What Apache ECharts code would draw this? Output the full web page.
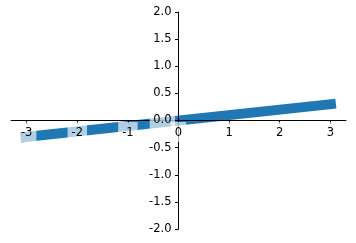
<!DOCTYPE html>
<html>
<head>
<meta charset="utf-8">
<script src="https://cdn.jsdelivr.net/npm/echarts@6/dist/echarts.min.js"></script>
<style>html,body{margin:0;padding:0;background:#fff;}#c{width:356px;height:243px;}</style>
</head>
<body>
<div id="c"></div>
<script>
// Data
const lineX = [-3.12, 3.11];
const lineY = [-0.312, 0.311];
const xTicks = [-3, -2, -1, 0, 1, 2, 3];
const yTickLabels = ['-2.0', '-1.5', '-1.0', '-0.5', '0.0', '0.5', '1.0', '1.5', '2.0'];

const chart = echarts.init(document.getElementById('c'), null, {renderer: 'canvas'});
const font = 'DejaVu Sans';
const labelBase = {
  color: '#000',
  fontFamily: font,
  fontSize: 11.5,
  backgroundColor: 'rgba(255,255,255,0.65)'
};
const grid = {left: 11, right: 10, top: 12, bottom: 14, containLabel: false, outerBoundsMode: 'none'};
chart.setOption({
  animation: false,
  grid: grid,
  xAxis: {
    type: 'value', min: -3.31, max: 3.31, zlevel: 1, z: 5, position: 'bottom', offset: 0,
    splitLine: {show: false},
    axisLine: {show: true, onZero: false, lineStyle: {color: '#000', width: 1}},
    axisTick: {show: true, length: 3.5, lineStyle: {color: '#000'}, customValues: xTicks},
    axisLabel: Object.assign({margin: 1.5, padding: [5, 4, 3, 4], customValues: xTicks,
      formatter: v => String(Math.round(v))}, labelBase)
  },
  yAxis: {
    type: 'value', min: -2, max: 2, interval: 0.5, zlevel: 1, z: 5, position: 'left', offset: 0,
    splitLine: {show: false},
    axisLine: {show: true, onZero: false, lineStyle: {color: '#000', width: 1}},
    axisTick: {show: true, length: 3.5, lineStyle: {color: '#000'}},
    axisLabel: Object.assign({margin: 3.5, padding: [4, 3.5, 1, 3.5], showMinLabel: true, showMaxLabel: true,
      formatter: v => yTickLabels[Math.round((v + 2) / 0.5)]}, labelBase)
  },
  series: [{
    type: 'line',
    data: lineX.map((x, i) => [x, lineY[i]]),
    showSymbol: false,
    zlevel: 0,
    z: 2,
    lineStyle: {color: '#1f77b4', width: 10, cap: 'butt'}
  }]
});
// Move both axes (line, ticks and labels) to cross at zero, like centred spines.
const zeroX = chart.convertToPixel({xAxisIndex: 0}, 0);
const zeroY = chart.convertToPixel({yAxisIndex: 0}, 0);
const H = chart.getHeight();
chart.setOption({
  xAxis: {offset: -((H - grid.bottom) - zeroY)},
  yAxis: {offset: -(zeroX - grid.left)}
});
</script>
</body>
</html>
